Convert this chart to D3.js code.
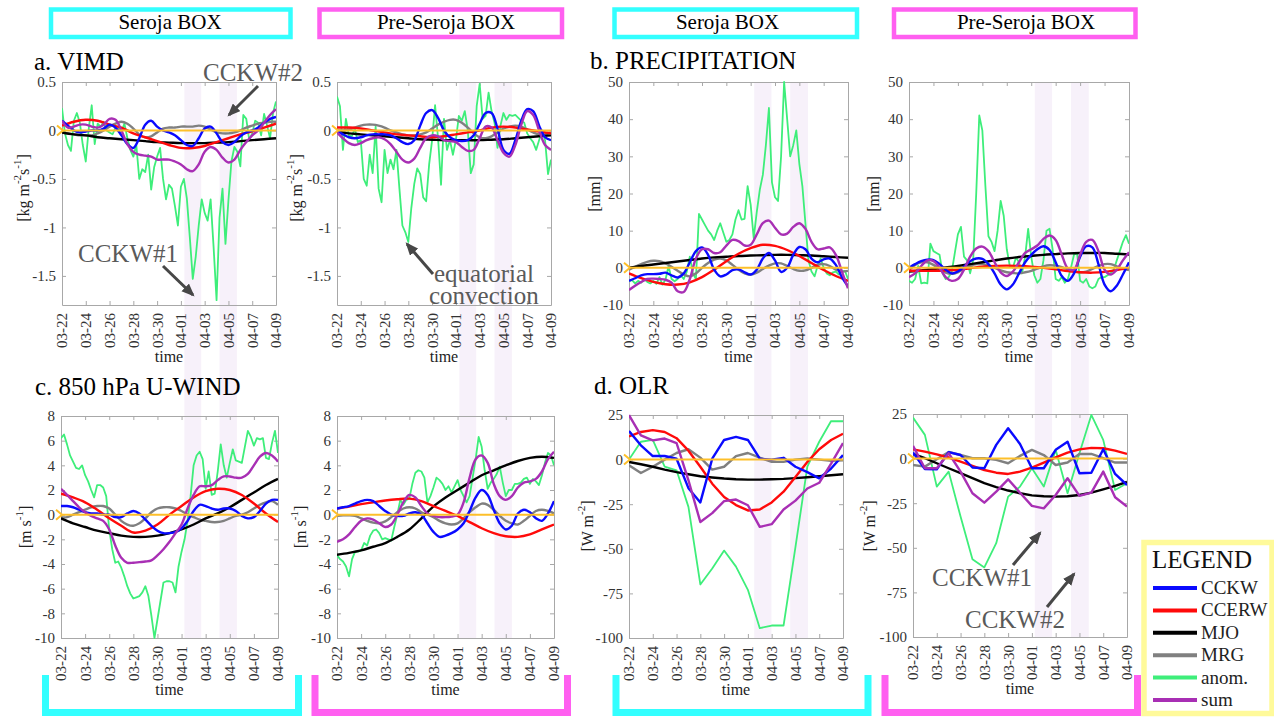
<!DOCTYPE html>
<html>
<head>
<meta charset="utf-8">
<script src="https://cdn.jsdelivr.net/npm/d3@7"></script>
<style>
  body { margin: 0; background: #fff; }
  svg { display: block; }
</style>
</head>
<body>
<svg id="chart" width="1274" height="718"></svg>
<script>
// ---------------- data ----------------
const year = '2021';
const dateTicks = ['03-22', '03-24', '03-26', '03-28', '03-30', '04-01', '04-03', '04-05', '04-07', '04-09'];
// shaded CCKW passages
const bandTimes = [['2021-04-01T07:00', '2021-04-02T17:00'], ['2021-04-04T06:00', '2021-04-05T17:00']];

const vimdTicks = [0.5, 0, -0.5, -1, -1.5];
const precipTicks = [50, 40, 30, 20, 10, 0, -10];
const uwindTicks = [8, 6, 4, 2, 0, -2, -4, -6, -8, -10];
const olrTicks = [25, 0, -25, -50, -75, -100];

// series are evenly spaced from 03-22 to 04-09 (19 = daily, 37 = 12-hourly, 73 = 6-hourly)
// a. VIMD, Seroja box
const vimdSerojaCCKW = [0.1, 0.05, 0.0, -0.02, -0.01, 0.0, 0.0, 0.02, 0.06, 0.03, -0.05, -0.14, -0.18, -0.08, 0.06, 0.1, 0.04, 0.0, -0.02, -0.05, -0.1, -0.15, -0.16, -0.08, 0.02, 0.04, -0.03, -0.12, -0.15, -0.12, -0.06, -0.02, 0.0, 0.03, 0.08, 0.12, 0.14];
const vimdSerojaCCERW = [0.05, 0.09, 0.11, 0.10, 0.06, 0.03, -0.03, -0.07, -0.11, -0.15, -0.18, -0.18, -0.16, -0.12, -0.08, -0.04, -0.01, 0.03, 0.07];
const vimdSerojaMJO = [-0.02, -0.04, -0.05, -0.07, -0.08, -0.09, -0.10, -0.11, -0.12, -0.125, -0.13, -0.13, -0.13, -0.125, -0.12, -0.11, -0.10, -0.09, -0.08];
const vimdSerojaMRG = [-0.02, -0.03, -0.04, -0.05, -0.05, -0.05, -0.03, 0.0, 0.04, 0.07, 0.09, 0.07, 0.02, -0.04, -0.07, -0.06, -0.02, 0.02, 0.03, 0.03, 0.04, 0.04, 0.04, 0.05, 0.04, 0.01, -0.02, -0.03, -0.03, -0.02, 0.0, 0.03, 0.05, 0.07, 0.08, 0.09, 0.09];
const vimdSerojaAnom = [0.23, -0.03, -0.15, -0.21, 0.1, 0.18, 0.08, -0.15, -0.32, 0.02, 0.26, -0.14, 0.07, 0.04, 0.09, 0.0, -0.02, -0.04, 0.03, 0.02, -0.01, 0.07, -0.08, -0.2, -0.27, -0.15, -0.5, -0.4, -0.43, -0.25, -0.61, -0.38, -0.27, -0.18, -0.5, -0.71, -0.56, -0.6, -0.78, -0.98, -0.58, -0.5, -0.7, -1.1, -1.53, -1.3, -0.98, -0.71, -0.85, -0.93, -0.71, -1.2, -1.75, -0.9, -0.6, -1.17, -0.72, -0.32, -0.17, -0.22, -0.37, 0.16, 0.12, -0.1, -0.03, 0.1, 0.08, -0.05, 0.17, 0.05, -0.08, 0.18, 0.3];
const vimdSerojaSum = [0.1, 0.03, 0.04, 0.06, 0.06, 0.04, 0.03, 0.06, 0.12, 0.11, 0.0, -0.14, -0.22, -0.25, -0.26, -0.27, -0.3, -0.3, -0.3, -0.32, -0.35, -0.4, -0.42, -0.35, -0.22, -0.17, -0.2, -0.28, -0.33, -0.3, -0.2, -0.12, -0.05, 0.0, 0.08, 0.16, 0.22];
// a. VIMD, Pre-Seroja box
const vimdPreCCKW = [0.0, -0.04, -0.07, -0.08, -0.07, -0.05, -0.04, -0.04, -0.04, -0.05, -0.08, -0.12, -0.14, -0.1, 0.05, 0.18, 0.21, 0.13, 0.0, -0.07, -0.1, -0.11, -0.1, -0.05, 0.07, 0.18, 0.18, 0.02, -0.2, -0.24, -0.1, 0.1, 0.22, 0.2, 0.05, -0.07, -0.1];
const vimdPreCCERW = [0.03, 0.03, 0.02, 0.0, -0.02, -0.04, -0.05, -0.06, -0.07, -0.06, -0.04, -0.02, 0.0, 0.03, 0.04, 0.03, 0.01, -0.01, -0.03];
const vimdPreMJO = [-0.01, -0.03, -0.04, -0.05, -0.06, -0.07, -0.08, -0.09, -0.095, -0.1, -0.1, -0.1, -0.1, -0.095, -0.09, -0.08, -0.07, -0.06, -0.05];
const vimdPreMRG = [0.0, 0.0, 0.01, 0.03, 0.05, 0.06, 0.06, 0.05, 0.03, 0.0, -0.02, -0.04, -0.05, -0.05, -0.04, -0.02, 0.02, 0.06, 0.09, 0.11, 0.11, 0.08, 0.03, -0.03, -0.07, -0.08, -0.06, -0.02, 0.02, 0.04, 0.05, 0.04, 0.01, -0.02, -0.04, -0.04, -0.02];
const vimdPreAnom = [0.35, 0.25, -0.2, 0.12, -0.05, -0.06, 0.02, -0.12, -0.1, -0.5, -0.57, -0.25, -0.44, 0.04, -0.6, -0.74, -0.2, -0.44, -0.3, -0.4, -0.2, -0.6, -0.98, -1.05, -1.15, -0.8, -0.55, -0.39, -0.45, -0.69, -0.73, -0.35, -0.1, 0.26, -0.08, -0.56, 0.12, -0.2, -0.1, -0.25, -0.1, 0.15, 0.1, 0.2, 0.0, -0.44, -0.35, 0.25, 0.48, 0.12, 0.15, 0.39, 0.2, 0.08, -0.18, 0.05, 0.18, 0.11, 0.16, 0.15, 0.16, 0.13, 0.1, 0.08, -0.03, -0.08, -0.12, -0.2, -0.1, 0.0, -0.1, -0.45, -0.3];
const vimdPreSum = [-0.02, -0.08, -0.13, -0.15, -0.13, -0.1, -0.08, -0.07, -0.09, -0.14, -0.22, -0.3, -0.33, -0.29, -0.18, -0.08, -0.05, -0.06, -0.1, -0.11, -0.12, -0.17, -0.21, -0.2, -0.08, 0.04, 0.03, -0.1, -0.23, -0.27, -0.15, 0.06, 0.2, 0.16, 0.0, -0.15, -0.2];
// b. precipitation, Seroja box
const precipSerojaCCKW = [-3.5, -2.8, -2.0, -1.7, -1.7, -1.6, -1.3, -2.0, -2.6, -1.5, 1.5, 4.5, 5.5, 3.5, -0.5, -2.3, -1.8, -0.6, -0.4, -1.2, -1.8, -0.5, 2.5, 4.0, 2.0, -1.1, 0.0, 3.5, 5.6, 5.0, 2.5, 1.5, 2.3, 2.5, 0.8, -2.5, -5.0];
const precipSerojaCCERW = [-1.5, -2.8, -3.8, -4.4, -4.5, -3.9, -2.5, -0.5, 1.8, 3.8, 5.3, 6.2, 5.9, 4.8, 3.2, 1.3, -0.6, -2.2, -3.5];
const precipSerojaMJO = [0.0, 0.5, 0.9, 1.3, 1.7, 2.1, 2.5, 2.8, 3.0, 3.2, 3.3, 3.4, 3.5, 3.5, 3.4, 3.3, 3.1, 2.9, 2.7];
const precipSerojaMRG = [-0.5, 0.3, 1.0, 1.6, 1.9, 1.8, 1.2, 0.3, -0.8, -1.8, -2.3, -1.5, 0.0, 1.3, 2.2, 2.5, 2.0, 0.8, -0.5, -1.5, -1.8, -1.3, -0.3, 0.6, 1.2, 1.2, 0.5, -0.3, -0.8, -0.7, 0.0, 0.8, 1.0, 0.5, -0.5, -1.0, -0.8];
const precipSerojaAnom = [-3.5, -3.3, -4.2, -3.5, -4.0, -3.0, -3.8, -4.2, -3.5, -4.3, -2.5, -4.5, -3.2, 0.5, -3.0, -3.6, -3.0, -2.0, -3.0, -1.0, 3.0, -1.5, -3.0, 14.5, 13.0, 11.5, 10.0, 9.0, 7.5, 10.0, 12.0, 9.5, 7.0, 7.5, 9.0, 13.0, 15.5, 13.0, 13.2, 22.0, 17.0, 8.0, 15.0, 21.0, 25.0, 33.0, 43.0, 23.0, 19.0, 18.0, 30.0, 50.0, 40.0, 30.0, 33.0, 37.0, 28.0, 22.0, 12.0, 2.0, -1.0, -2.3, 0.5, 2.5, 0.0, -1.5, -2.0, -1.2, -1.0, -1.8, -1.0, -0.8, -3.0];
const precipSerojaSum = [-6.0, -4.8, -3.8, -3.0, -2.9, -3.0, -3.2, -4.0, -6.3, -6.5, -3.0, 2.5, 5.0, 5.0, 4.0, 4.2, 6.0, 7.5, 7.2, 6.0, 6.2, 9.0, 12.0, 12.7, 10.8, 9.0, 9.2, 11.0, 12.0, 10.5, 7.0, 5.0, 5.2, 5.5, 3.5, -1.0, -5.5];
// b. precipitation, Pre-Seroja box
const precipPreCCKW = [0.0, 1.0, 1.8, 2.2, 2.1, 1.0, -0.5, -1.5, -1.0, 0.3, 1.8, 2.5, 2.4, 1.0, -1.5, -4.5, -5.8, -4.5, -1.5, 1.5, 3.5, 5.0, 5.8, 4.8, 1.5, -2.2, -3.5, -1.5, 3.0, 5.8, 5.5, 1.0, -4.5, -6.3, -4.8, -1.8, 1.5];
const precipPreCCERW = [-0.7, -0.8, -0.8, -0.7, -0.5, -0.1, 0.3, 0.5, 0.6, 0.5, 0.3, 0.0, -0.4, -0.9, -1.2, -1.3, -1.1, -0.6, 0.0];
const precipPreMJO = [-1.0, -0.7, -0.3, 0.1, 0.5, 1.0, 1.5, 2.0, 2.5, 2.9, 3.2, 3.5, 3.7, 3.9, 4.0, 4.0, 4.0, 3.8, 3.6];
const precipPreMRG = [-0.5, 0.8, 1.5, 1.5, 0.8, -0.3, -1.3, -1.6, -1.2, -0.3, 0.5, 1.0, 1.0, 0.7, 0.0, -0.7, -1.2, -1.4, -1.5, -1.2, -0.8, -0.2, 0.4, 0.7, 0.6, 0.2, -0.4, -0.9, -1.2, -1.0, -0.3, 0.5, 1.0, 1.0, 0.4, -0.3, -0.6];
const precipPreAnom = [-3.5, -4.0, -3.0, 0.5, -4.2, -4.0, -4.2, 6.5, 4.5, 4.0, 3.5, -1.5, -3.0, -2.5, -1.0, 4.0, 9.0, 11.0, 3.0, 2.0, -1.5, 2.0, 20.0, 41.0, 37.0, 22.0, 8.5, 7.0, 4.5, 10.0, 18.0, 14.0, 5.0, 0.5, 0.0, 2.8, 1.5, -1.5, 3.0, 10.5, 3.0, -2.0, -4.0, -3.0, 2.0, 10.0, 10.5, 5.0, -3.0, -3.5, -2.5, -4.0, -3.0, 0.0, 3.5, 4.0, -3.5, -4.0, -3.0, -5.0, -5.5, -5.0, -3.0, -2.5, -2.5, -2.0, -1.5, -0.5, 2.0, 4.5, 7.0, 8.8, 6.5];
const precipPreSum = [-2.5, -1.5, 0.5, 2.0, 1.8, 0.0, -2.5, -3.5, -3.0, -0.5, 3.0, 5.2, 5.7, 4.5, 1.5, -1.2, -2.2, -1.0, 1.5, 4.0, 5.0, 6.0, 7.8, 8.7, 7.5, 3.5, -0.2, -0.5, 3.5, 7.0, 7.5, 4.5, -0.5, -1.8, -0.5, 2.0, 4.2];
// c. 850 hPa u-wind, Seroja box
const uwindSerojaCCKW = [0.7, 0.7, 0.6, 0.4, 0.2, 0.1, 0.1, 0.0, 0.0, -0.2, -0.2, 0.1, 0.3, 0.1, -0.4, -0.9, -1.3, -1.5, -1.5, -1.4, -1.1, -0.5, 0.3, 0.8, 0.7, 0.5, 0.4, 0.5, 0.5, 0.3, -0.1, -0.3, -0.2, 0.3, 0.9, 1.2, 1.2];
const uwindSerojaCCERW = [1.7, 1.4, 1.0, 0.4, -0.3, -0.9, -1.45, -1.3, -0.8, 0.0, 0.7, 1.4, 1.9, 2.1, 2.0, 1.6, 0.9, 0.1, -0.6];
const uwindSerojaMJO = [-0.3, -0.7, -1.0, -1.3, -1.5, -1.7, -1.8, -1.8, -1.7, -1.5, -1.2, -0.8, -0.3, 0.1, 0.6, 1.2, 1.8, 2.4, 2.9];
const uwindSerojaMRG = [-0.2, -0.2, 0.0, 0.2, 0.4, 0.6, 0.7, 0.7, 0.5, 0.0, -0.5, -0.8, -0.9, -0.7, -0.3, 0.2, 0.5, 0.6, 0.6, 0.5, 0.3, 0.0, -0.2, -0.4, -0.5, -0.6, -0.6, -0.5, -0.3, -0.1, 0.0, 0.2, 0.5, 0.8, 1.0, 1.1, 0.8];
const uwindSerojaAnom = [6.2, 6.5, 5.7, 4.8, 4.3, 3.8, 3.7, 4.0, 3.2, 2.7, 2.0, 1.4, 2.4, 2.4, 2.2, 1.5, -1.2, -2.8, -3.9, -3.8, -4.3, -5.0, -5.8, -6.4, -6.8, -6.7, -6.6, -6.3, -5.8, -6.6, -8.2, -10.0, -8.5, -7.0, -5.5, -5.4, -5.4, -5.5, -6.3, -4.2, -3.0, -2.0, -0.5, 1.5, 4.0, 4.8, 5.1, 4.5, 2.1, 3.5, 1.6, 1.7, 3.5, 5.7, 4.0, 3.0, 4.2, 5.3, 4.4, 4.3, 4.2, 5.5, 6.8, 6.3, 5.6, 6.2, 6.1, 6.2, 4.6, 4.5, 5.8, 6.8, 5.0];
const uwindSerojaSum = [2.1, 1.6, 1.1, 0.6, 0.2, -0.1, -0.3, -0.5, -1.2, -2.5, -3.5, -3.9, -3.9, -3.85, -3.8, -3.7, -3.3, -2.8, -2.2, -1.5, -0.8, 0.5, 1.6, 2.3, 2.3, 2.4, 2.8, 3.1, 3.1, 3.0, 3.0, 3.3, 4.0, 4.7, 5.0, 4.8, 4.3];
// c. 850 hPa u-wind, Pre-Seroja box
const uwindPreCCKW = [0.5, 0.6, 0.7, 0.9, 1.1, 1.2, 1.1, 0.7, 0.3, 0.0, -0.1, -0.1, 0.1, 0.2, 0.0, -0.7, -1.4, -1.8, -1.7, -1.5, -1.2, -0.7, 0.3, 1.4, 2.0, 1.6, 0.4, -0.7, -1.2, -0.9, 0.1, 0.4, 0.2, -0.3, -0.5, 0.1, 1.1];
const uwindPreCCERW = [0.5, 0.65, 0.85, 1.0, 1.15, 1.25, 1.3, 1.1, 0.7, 0.3, -0.1, -0.6, -1.1, -1.5, -1.75, -1.8, -1.6, -1.2, -0.8];
const uwindPreMJO = [-3.25, -3.1, -2.9, -2.6, -2.3, -1.8, -1.2, -0.3, 0.67, 1.4, 2.0, 2.6, 3.2, 3.6, 4.0, 4.35, 4.6, 4.7, 4.6];
const uwindPreMRG = [-0.1, -0.05, -0.05, -0.1, -0.3, -0.5, -0.65, -0.7, -0.55, -0.2, 0.2, 0.5, 0.6, 0.5, 0.2, 0.0, -0.2, -0.5, -0.7, -0.8, -0.7, -0.3, 0.2, 0.6, 0.9, 0.8, 0.4, -0.1, -0.5, -0.7, -0.8, -0.5, -0.1, 0.3, 0.4, 0.3, 0.1];
const uwindPreAnom = [-3.3, -3.6, -3.8, -4.2, -5.0, -3.6, -3.0, -3.0, -2.9, -2.3, -2.5, -1.7, -1.3, -1.2, -1.5, -2.0, -1.9, -2.0, -2.1, -1.0, 0.0, 1.2, 0.8, 1.2, 1.3, 2.5, 3.4, 3.6, 3.5, 3.0, 1.0, 1.5, 2.2, 3.0, 2.8, 2.5, 2.0, 2.3, 1.8, 2.3, 2.8, 2.0, 1.5, 1.0, 1.5, 3.0, 4.5, 6.3, 5.5, 3.6, 2.1, 2.6, 2.9, 3.3, 3.9, 2.6, 1.5, 2.0, 2.0, 2.5, 2.5, 2.6, 2.9, 3.0, 2.5, 2.9, 2.7, 2.4, 3.2, 4.2, 5.0, 4.8, 4.0];
const uwindPreSum = [-2.2, -2.0, -1.6, -1.0, -0.5, -0.3, -0.4, -0.7, -1.0, -0.8, 0.0, 1.0, 1.6, 1.4, 0.7, 0.1, -0.1, -0.2, -0.2, -0.15, 0.0, 1.0, 3.0, 4.5, 4.8, 4.2, 2.5, 1.5, 1.2, 1.5, 2.2, 2.6, 2.7, 2.9, 3.5, 4.5, 5.1];
// d. OLR (daily), Seroja box
const olrSerojaCCKW = [16, 8, 2, 2, 0.5, -16, -24, 0.5, 11, 12.7, 11, 0.5, 0, 1, -4, -7, -10.5, -5, 2.5];
const olrSerojaCCERW = [13, 15.5, 16.5, 15.5, 12, 5, -4, -13.5, -21, -25.5, -28.5, -28, -24, -18, -9.7, -1.3, 5.8, 11, 14.5];
const olrSerojaMJO = [-1.3, -2.6, -4, -5.6, -7, -8.2, -9.3, -10, -10.6, -11, -11.2, -11.2, -11, -10.8, -10.4, -9.9, -9.3, -8.8, -8.2];
const olrSerojaMRG = [-3.2, -7.5, -4, 0, 3.7, 5.8, 1.1, -5.6, -4, 1.9, 3.7, 1.1, -1.3, -1.3, 0, 0.6, 0, -0.7, -0.4];
const olrSerojaAnom = [0, 10, 11, -4, -6, -26.5, -70, -61, -51, -60, -73, -94.5, -93, -93, -49, -4, 10, 21.6, 21.5];
const olrSerojaSum = [25, 13.6, 10.8, 11.8, 9.3, -11.6, -35, -30, -23.3, -22.4, -25.6, -37.7, -36.2, -28, -23, -16.2, -13, -2.2, 9.3];
// d. OLR (daily), Pre-Seroja box
const olrPreCCKW = [3.4, -5.8, -6, 3.6, 2, -5, -5.4, 7.7, 17, 8.2, -5.4, -5.4, 4.9, 9.5, -8.2, -7.9, 5.2, -8.6, -14.8];
const olrPreCCERW = [5.2, 3.9, 2.4, 0.6, -1.7, -4.1, -6.4, -7.9, -8.6, -7.3, -5, -2.2, 0.7, 3.4, 5.2, 6, 5.8, 4.5, 2.6];
const olrPreMJO = [2.6, 0.2, -2.6, -5.4, -8.2, -11, -13.8, -16, -17.9, -19.4, -20.6, -21.1, -21.3, -21.1, -20.4, -19.1, -17.2, -15.3, -13.1];
const olrPreMRG = [-3.6, -4.5, -0.4, 3.7, 2, 0.2, 0.2, -0.7, -2.6, 1.5, 4.9, 2, -3.6, -2.2, 2.6, 2.6, 0.2, -2.2, -2.2];
const olrPreAnom = [23, 13.3, -15.7, -7.3, -32.5, -56.4, -61, -47.4, -21.3, -15.7, -5.4, -15.7, 4.9, -19.4, 3, 24.5, 10.5, -17.6, -13.8];
const olrPreSum = [7.1, -5.4, -5.4, 3, -7.3, -19.4, -24.7, -18.5, -11.6, -19.1, -26.5, -27.9, -20.4, -11, -20.9, -19.1, -7.3, -21.7, -26.9];

const legendNames = ['CCKW', 'CCERW', 'MJO', 'MRG', 'anom.', 'sum'];
const boxNames = ['Seroja BOX', 'Pre-Seroja BOX', 'Seroja BOX', 'Pre-Seroja BOX'];

// ---------------- setup ----------------
const FONT = '"Liberation Serif", "Times New Roman", "DejaVu Serif", serif';
const svg = d3.select('#chart').attr('font-family', FONT);

const colors = { cckw: '#0a0aff', ccerw: '#ff0a0a', mjo: '#000000', mrg: '#808080', anom: '#3eee7a', sum: '#a82fb4' };
const widths = { cckw: 2.4, ccerw: 2.4, mjo: 2.4, mrg: 2.4, anom: 1.8, sum: 2.4 };
const drawOrder = ['anom', 'mrg', 'mjo', 'ccerw', 'cckw', 'sum'];
const legendKeys = ['cckw', 'ccerw', 'mjo', 'mrg', 'anom', 'sum'];
const zeroColor = '#fdbf2a';
const boxColors = ['#33ffff', '#ff5ff0', '#33ffff', '#ff5ff0'];

const parseDay = d3.utcParse('%Y-%m-%d');
const parseTime = d3.utcParse('%Y-%m-%dT%H:%M');
const tickDates = dateTicks.map(s => parseDay(year + '-' + s));
const tStart = tickDates[0];
const tEnd = tickDates[tickDates.length - 1];
const timeAt = (i, n) => new Date(+tStart + (tEnd - tStart) * i / (n - 1));

const supLabel = {
  vimd: [['[kg m', 0], ['-2', 1], ['s', 0], ['-1', 1], [']', 0]],
  mm: [['[mm]', 0]],
  ms: [['[m s', 0], ['-1', 1], [']', 0]],
  wm: [['[W m', 0], ['-2', 1], [']', 0]],
};

// panel layout (pixel boxes of each axes), data hooked in from the arrays above
const panels = [
  { col: 0, x0: 62, x1: 276, y0: 82, y1: 305, dom: [-1.8, 0.5], ticks: vimdTicks, smooth: true, lab: 'vimd', lx: 23, ly: 188,
    title: 'a. VIMD', tx: 34, ty: 70,
    s: { cckw: vimdSerojaCCKW, ccerw: vimdSerojaCCERW, mjo: vimdSerojaMJO, mrg: vimdSerojaMRG, anom: vimdSerojaAnom, sum: vimdSerojaSum } },
  { col: 1, x0: 337, x1: 551, y0: 82, y1: 305, dom: [-1.8, 0.5], ticks: vimdTicks, smooth: true, lab: 'vimd', lx: 296, ly: 188,
    s: { cckw: vimdPreCCKW, ccerw: vimdPreCCERW, mjo: vimdPreMJO, mrg: vimdPreMRG, anom: vimdPreAnom, sum: vimdPreSum } },
  { col: 2, x0: 629, x1: 848, y0: 82, y1: 305, dom: [-10, 50], ticks: precipTicks, smooth: true, lab: 'mm', lx: 594, ly: 194,
    title: 'b. PRECIPITATION', tx: 590, ty: 69,
    s: { cckw: precipSerojaCCKW, ccerw: precipSerojaCCERW, mjo: precipSerojaMJO, mrg: precipSerojaMRG, anom: precipSerojaAnom, sum: precipSerojaSum } },
  { col: 3, x0: 909, x1: 1129, y0: 82, y1: 305, dom: [-10, 50], ticks: precipTicks, smooth: true, lab: 'mm', lx: 873, ly: 194,
    s: { cckw: precipPreCCKW, ccerw: precipPreCCERW, mjo: precipPreMJO, mrg: precipPreMRG, anom: precipPreAnom, sum: precipPreSum } },
  { col: 0, x0: 61, x1: 278, y0: 416, y1: 638, dom: [-10, 8], ticks: uwindTicks, smooth: true, lab: 'ms', lx: 25, ly: 527,
    title: 'c. 850 hPa U-WIND', tx: 35, ty: 395,
    s: { cckw: uwindSerojaCCKW, ccerw: uwindSerojaCCERW, mjo: uwindSerojaMJO, mrg: uwindSerojaMRG, anom: uwindSerojaAnom, sum: uwindSerojaSum } },
  { col: 1, x0: 337, x1: 554, y0: 416, y1: 638, dom: [-10, 8], ticks: uwindTicks, smooth: true, lab: 'ms', lx: 300, ly: 527,
    s: { cckw: uwindPreCCKW, ccerw: uwindPreCCERW, mjo: uwindPreMJO, mrg: uwindPreMRG, anom: uwindPreAnom, sum: uwindPreSum } },
  { col: 2, x0: 629, x1: 843, y0: 415, y1: 638, dom: [-100, 25], ticks: olrTicks, smooth: false, lab: 'wm', lx: 587, ly: 526,
    title: 'd. OLR', tx: 594, ty: 394,
    s: { cckw: olrSerojaCCKW, ccerw: olrSerojaCCERW, mjo: olrSerojaMJO, mrg: olrSerojaMRG, anom: olrSerojaAnom, sum: olrSerojaSum } },
  { col: 3, x0: 913, x1: 1127, y0: 414, y1: 637, dom: [-100, 25], ticks: olrTicks, smooth: false, lab: 'wm', lx: 869, ly: 526,
    s: { cckw: olrPreCCKW, ccerw: olrPreCCERW, mjo: olrPreMJO, mrg: olrPreMRG, anom: olrPreAnom, sum: olrPreSum } },
];

panels.forEach(p => {
  p.x = d3.scaleUtc().domain([tStart, tEnd]).range([p.x0, p.x1]);
  p.y = d3.scaleLinear().domain(p.dom).range([p.y1, p.y0]);
});

// ---------------- shaded bands (span both rows) ----------------
const bandLayer = svg.append('g');
panels.slice(0, 4).forEach(p => {
  bandTimes.forEach(b => {
    const a = p.x(parseTime(b[0])), c = p.x(parseTime(b[1]));
    bandLayer.append('rect')
      .attr('x', a).attr('width', c - a)
      .attr('y', 82).attr('height', 638 - 82)
      .attr('fill', '#f7f1fa');
  });
});

// ---------------- panels ----------------
const defs = svg.append('defs');
defs.append('marker')
  .attr('id', 'arrow')
  .attr('viewBox', '0 0 12 10')
  .attr('refX', 10).attr('refY', 5)
  .attr('markerWidth', 13).attr('markerHeight', 11)
  .attr('markerUnits', 'userSpaceOnUse')
  .attr('orient', 'auto')
  .append('path').attr('d', 'M0,0 L12,5 L0,10 z').attr('fill', '#474747');

function styleAxis(g) {
  g.attr('font-family', FONT).attr('font-size', 15);
  g.select('.domain').attr('stroke', '#a8a8a8');
  g.selectAll('.tick line').attr('stroke', '#a8a8a8');
  g.selectAll('.tick text').attr('fill', '#333');
}

panels.forEach((p, k) => {
  const g = svg.append('g');
  const { x, y } = p;

  defs.append('clipPath').attr('id', 'clip' + k)
    .append('rect').attr('x', p.x0).attr('y', p.y0 - 2).attr('width', p.x1 - p.x0).attr('height', p.y1 - p.y0 + 4);

  // axes: bottom / left with labels, top / right ticks only
  const gx = g.append('g').attr('transform', `translate(0,${p.y1})`)
    .call(d3.axisBottom(x).tickValues(tickDates).tickFormat(d3.utcFormat('%m-%d')).tickSizeInner(-4).tickSizeOuter(0));
  styleAxis(gx);
  gx.selectAll('.tick text')
    .attr('transform', 'rotate(-90)')
    .attr('text-anchor', 'end')
    .attr('x', -8).attr('y', 0).attr('dy', '0.33em');

  const gy = g.append('g').attr('transform', `translate(${p.x0},0)`)
    .call(d3.axisLeft(y).tickValues(p.ticks).tickFormat(d => String(d)).tickSizeInner(-4).tickSizeOuter(0).tickPadding(6));
  styleAxis(gy);

  const gt = g.append('g').attr('transform', `translate(0,${p.y0})`)
    .call(d3.axisTop(x).tickValues(tickDates).tickFormat('').tickSizeInner(-4).tickSizeOuter(0));
  styleAxis(gt);
  const gr = g.append('g').attr('transform', `translate(${p.x1},0)`)
    .call(d3.axisRight(y).tickValues(p.ticks).tickFormat('').tickSizeInner(-4).tickSizeOuter(0));
  styleAxis(gr);

  // series
  const plot = g.append('g').attr('clip-path', `url(#clip${k})`);
  drawOrder.forEach(key => {
    const vals = p.s[key];
    const line = d3.line()
      .x((d, i) => x(timeAt(i, vals.length)))
      .y(d => y(d))
      .curve(p.smooth && key !== 'anom' ? d3.curveCatmullRom.alpha(0.5) : d3.curveLinear);
    plot.append('path')
      .datum(vals)
      .attr('d', line)
      .attr('fill', 'none')
      .attr('stroke', colors[key])
      .attr('stroke-width', widths[key])
      .attr('stroke-linejoin', 'round');
  });

  // zero line with chevron marker
  const y0 = y(0);
  g.append('line').attr('x1', p.x0).attr('x2', p.x1).attr('y1', y0).attr('y2', y0)
    .attr('stroke', zeroColor).attr('stroke-width', 2);
  g.append('path').attr('d', `M${p.x0 - 5},${y0 - 5} L${p.x0 + 1},${y0} L${p.x0 - 5},${y0 + 5}`)
    .attr('fill', 'none').attr('stroke', zeroColor).attr('stroke-width', 2);

  // x label
  g.append('text').attr('x', (p.x0 + p.x1) / 2).attr('y', p.y1 + 57)
    .attr('text-anchor', 'middle').attr('font-size', 16).attr('fill', '#222').text('time');

  // y label with superscripts
  const yl = g.append('text')
    .attr('transform', `translate(${p.lx},${p.ly}) rotate(-90)`)
    .attr('text-anchor', 'middle').attr('dominant-baseline', 'central')
    .attr('font-size', 16).attr('fill', '#222');
  let shift = 0;
  supLabel[p.lab].forEach(([txt, sup]) => {
    const target = sup ? -6 : 0;
    yl.append('tspan').attr('dy', target - shift).attr('font-size', sup ? 11 : 16).text(txt);
    shift = target;
  });

  if (p.title) {
    svg.append('text').attr('x', p.tx).attr('y', p.ty)
      .attr('font-size', 25).attr('fill', '#000').text(p.title);
  }
});

// ---------------- header boxes and bottom brackets ----------------
const headBoxes = [[51, 290.5, 170], [319.5, 562, 446], [614.5, 857, 727.5], [894, 1135.5, 1026]];
headBoxes.forEach((b, i) => {
  svg.append('rect').attr('x', b[0]).attr('y', 9.5).attr('width', b[1] - b[0]).attr('height', 27.5)
    .attr('fill', 'none').attr('stroke', boxColors[i]).attr('stroke-width', 4.5);
  svg.append('text').attr('x', b[2]).attr('y', 29).attr('text-anchor', 'middle')
    .attr('font-size', 21).attr('fill', '#000').text(boxNames[i]);
});

const brackets = [[45.5, 298.5], [315, 567.5], [616, 868], [885, 1137.5]];
brackets.forEach((b, i) => {
  svg.append('path').attr('d', `M${b[0]},675 V712.5 H${b[1]} V675`)
    .attr('fill', 'none').attr('stroke', boxColors[i]).attr('stroke-width', 7);
});

// ---------------- annotations ----------------
const notes = [
  { t: 'CCKW#2', x: 203, y: 81, a: [258, 86, 229, 115] },
  { t: 'CCKW#1', x: 78, y: 262, a: [163, 266, 193, 295] },
  { t: 'equatorial', x: 434, y: 282, a: [433, 274, 407, 244] },
  { t: 'convection', x: 429, y: 304 },
  { t: 'CCKW#1', x: 932, y: 586, a: [1013, 565, 1040, 533] },
  { t: 'CCKW#2', x: 965, y: 628, a: [1047, 607, 1074, 574] },
];
notes.forEach(n => {
  svg.append('text').attr('x', n.x).attr('y', n.y).attr('font-size', 25).attr('fill', '#5a5a5a').text(n.t);
  if (n.a) {
    svg.append('line').attr('x1', n.a[0]).attr('y1', n.a[1]).attr('x2', n.a[2]).attr('y2', n.a[3])
      .attr('stroke', '#474747').attr('stroke-width', 3).attr('marker-end', 'url(#arrow)');
  }
});

// ---------------- legend ----------------
const lg = svg.append('g');
lg.append('rect').attr('x', 1144).attr('y', 542.5).attr('width', 128).attr('height', 171)
  .attr('fill', '#fff').attr('stroke', '#fffa9a').attr('stroke-width', 5.5);
lg.append('text').attr('x', 1152).attr('y', 568).attr('font-size', 25).attr('fill', '#111').text('LEGEND');
legendKeys.forEach((key, i) => {
  const cy = 588 + i * 22.4;
  lg.append('line').attr('x1', 1153).attr('x2', 1197).attr('y1', cy).attr('y2', cy)
    .attr('stroke', colors[key]).attr('stroke-width', 4);
  lg.append('text').attr('x', 1201).attr('y', cy + 6).attr('font-size', 19).attr('fill', '#222').text(legendNames[i]);
});
</script>
</body>
</html>
